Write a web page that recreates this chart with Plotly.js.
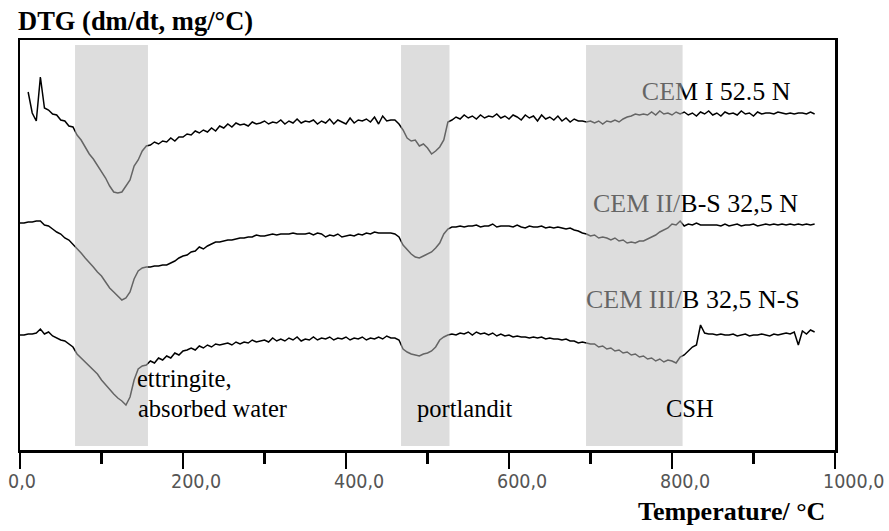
<!DOCTYPE html>
<html>
<head>
<meta charset="utf-8">
<script src="https://cdn.plot.ly/plotly-3.0.1.min.js"></script>
<style>html,body{margin:0;padding:0;background:#fff;}#chart{width:889px;height:531px;}</style>
</head>
<body>
<div id="chart"></div>
<script>
// Temperature sampling grid (°C), 0..975 step 5
const temperature = Array.from({length: 196}, (_, i) => i * 5);

// DTG readings (arbitrary offset units), one row = 50 °C
const cemI = [
  null, null, 35.8, 33.7, 32.9, 37.3, 34.2, 34.0, 33.6, 33.5,
  33.0, 32.9, 32.4, 32.3, 31.5, 31.0, 30.3, 29.6, 29.1, 28.5,
  27.9, 27.2, 26.4, 25.8, 25.7, 25.8, 26.4, 27.0, 28.4, 29.0,
  29.9, 30.4, 30.5, 30.8, 30.6, 30.9, 30.8, 31.2, 30.9, 31.3,
  31.3, 31.6, 31.5, 31.9, 31.7, 32.0, 31.8, 32.2, 31.9, 32.4,
  32.2, 32.6, 32.3, 32.7, 32.5, 32.6, 32.4, 32.8, 32.6, 32.7,
  32.9, 32.6, 32.8, 32.7, 33.0, 32.6, 32.9, 32.7, 33.1, 32.7,
  32.9, 32.8, 33.0, 32.6, 32.9, 32.7, 33.1, 32.6, 33.0, 32.8,
  32.6, 33.2, 32.7, 33.0, 32.9, 33.1, 32.8, 33.3, 32.6, 33.4,
  32.9, 33.0, 33.0, 32.6, 32.0, 31.2, 30.9, 31.0, 30.4, 30.6,
  30.2, 29.6, 29.9, 30.3, 31.0, 32.8, 33.0, 33.3, 33.1, 33.5,
  33.2, 33.4, 33.1, 33.5, 33.2, 33.4, 33.3, 33.6, 33.2, 33.4,
  33.1, 33.5, 33.3, 33.0, 33.5, 33.2, 33.4, 32.9, 33.5, 33.1,
  33.3, 33.0, 33.4, 32.9, 33.2, 32.8, 33.1, 32.9, 32.9, 32.8,
  32.9, 32.7, 32.9, 32.6, 32.9, 32.8, 33.0, 32.8, 33.1, 33.3,
  33.4, 33.6, 33.5, 33.6, 33.5, 33.8, 33.5, 33.9, 33.6, 33.7,
  33.5, 33.8, 33.6, 33.8, 33.5, 33.7, 33.4, 33.8, 33.6, 33.9,
  33.5, 33.7, 33.4, 33.8, 33.6, 33.7, 33.5, 33.9, 33.6, 33.7,
  33.4, 33.8, 33.6, 33.7, 33.7, 33.6, 33.8, 33.7, 33.6, 33.7,
  33.6, 33.7, 33.7, 33.6, 33.8, 33.6
];
const cemII = [
  22.7, 22.7, 22.8, 22.8, 22.9, 22.9, 22.5, 22.4, 22.1, 21.8,
  21.6, 21.2, 21.0, 20.6, 20.2, 19.7, 19.2, 18.8, 18.3, 17.8,
  17.4, 16.8, 16.2, 15.8, 15.4, 15.0, 15.2, 15.8, 17.1, 17.9,
  18.2, 18.3, 18.3, 18.4, 18.4, 18.5, 18.5, 18.7, 18.9, 19.2,
  19.4, 19.5, 19.8, 19.9, 20.3, 20.1, 20.4, 20.6, 20.8, 20.8,
  20.9, 21.0, 21.0, 21.1, 21.2, 21.2, 21.3, 21.3, 21.5, 21.4,
  21.4, 21.5, 21.6, 21.5, 21.6, 21.6, 21.6, 21.7, 21.6, 21.6,
  21.6, 21.7, 21.5, 21.7, 21.6, 21.3, 21.5, 21.4, 21.6, 21.3,
  21.4, 21.5, 21.4, 21.6, 21.5, 21.7, 21.6, 21.8, 21.7, 21.7,
  21.7, 21.7, 21.6, 21.3, 20.5, 20.0, 19.6, 19.3, 19.2, 19.4,
  19.6, 19.8, 20.2, 20.7, 21.6, 22.1, 22.3, 22.3, 22.4, 22.3,
  22.4, 22.4, 22.5, 22.3, 22.4, 22.4, 22.6, 22.3, 22.4, 22.4,
  22.4, 22.3, 22.5, 22.3, 22.2, 22.4, 22.3, 22.3, 22.4, 22.2,
  22.3, 22.2, 22.3, 22.2, 22.1, 22.2, 22.0, 21.9, 21.7, 21.6,
  21.4, 21.5, 21.2, 21.3, 21.2, 21.0, 21.2, 20.9, 21.0, 20.7,
  20.8, 20.7, 20.9, 20.9, 21.1, 21.3, 21.5, 21.8, 22.0, 22.2,
  22.6, 22.5, 22.9, 22.4, 22.6, 22.5, 22.7, 22.5, 22.5, 22.5,
  22.5, 22.5, 22.4, 22.6, 22.4, 22.5, 22.6, 22.4, 22.5, 22.5,
  22.6, 22.4, 22.5, 22.6, 22.5, 22.6, 22.5, 22.6, 22.5, 22.6,
  22.5, 22.6, 22.5, 22.6, 22.5, 22.6
];
const cemIII = [
  11.5, 11.5, 11.6, 11.6, 11.7, 12.1, 11.6, 11.8, 11.4, 11.2,
  11.0, 10.9, 10.6, 10.3, 9.6, 9.2, 8.8, 8.4, 8.0, 7.6,
  7.0, 6.5, 6.1, 5.6, 5.2, 4.9, 4.5, 5.3, 7.0, 8.1,
  8.4, 8.5, 8.9, 8.7, 9.2, 9.0, 9.4, 9.2, 9.7, 9.5,
  9.9, 10.0, 10.2, 10.0, 10.4, 10.2, 10.5, 10.3, 10.6, 10.5,
  10.6, 10.7, 10.5, 10.8, 10.6, 10.8, 10.7, 11.0, 10.8, 10.9,
  11.0, 10.8, 11.2, 10.9, 11.1, 10.9, 11.2, 11.0, 11.3, 10.9,
  11.1, 11.0, 11.3, 11.0, 11.2, 11.1, 11.3, 11.0, 11.2, 11.1,
  11.3, 11.0, 11.2, 11.1, 11.3, 11.0, 11.2, 11.1, 11.3, 11.1,
  11.4, 11.2, 11.2, 11.0, 10.1, 9.8, 9.6, 9.5, 9.4, 9.6,
  9.7, 9.9, 10.3, 11.0, 11.3, 11.5, 11.6, 11.5, 11.7, 11.6,
  11.8, 11.5, 11.8, 11.6, 11.7, 11.5, 11.7, 11.4, 11.6, 11.4,
  11.5, 11.3, 11.4, 11.3, 11.3, 11.2, 11.3, 11.2, 11.3, 11.1,
  11.2, 11.1, 11.1, 11.0, 11.1, 10.9, 10.9, 10.7, 10.8, 10.7,
  10.6, 10.6, 10.3, 10.4, 10.1, 10.2, 9.9, 10.0, 9.7, 9.8,
  9.5, 9.6, 9.3, 9.4, 9.1, 9.2, 8.9, 9.1, 8.8, 9.0,
  8.9, 8.7, 9.3, 9.5, 9.9, 10.3, 10.5, 12.5, 11.7, 11.6,
  11.6, 11.5, 11.6, 11.5, 11.5, 11.6, 11.4, 11.5, 11.6, 11.4,
  11.5, 11.5, 11.6, 11.5, 11.4, 11.6, 11.5, 11.6, 11.7, 11.6,
  11.8, 10.5, 11.9, 11.6, 12.0, 11.8
];

// Series labels
const seriesNames = ['CEM I 52.5 N', 'CEM II/B-S 32,5 N', 'CEM III/B 32,5 N-S'];
const labelX = [763, 703, 694.5];
const labelY = [35.65, 24.48, 14.82];

// Highlighted temperature ranges (°C) and their labels
const bandStart = [67.5, 467.5, 694.5];
const bandEnd = [157, 527, 813];
const bandLabels = ['ettringite,', 'absorbed water', 'portlandit', 'CSH'];
const bandLabelX = [144, 144.5, 487.5, 792.5];
const bandLabelY = [7.17, 4.17, 4.17, 4.17];

// Axis ticks
const tickVals = [0, 200, 400, 600, 800, 1000];
const tickText = ['0,0', '200,0', '400,0', '600,0', '800,0', '1000,0'];

const serif = 'Liberation Serif, Times New Roman, serif';

const traces = [cemI, cemII, cemIII].map(ys => ({
  x: temperature, y: ys, type: 'scatter', mode: 'lines',
  line: {color: '#000', width: 1.5}, connectgaps: false, hoverinfo: 'skip'
}));
traces.push({
  x: labelX, y: labelY, type: 'scatter', mode: 'text',
  text: seriesNames, textposition: 'middle right',
  textfont: {family: serif, size: 26, color: '#000'}, hoverinfo: 'skip'
});

const shapes = bandStart.map((s, i) => ({
  type: 'rect', xref: 'x', yref: 'paper', x0: s, x1: bandEnd[i], y0: 0.01, y1: 0.988,
  fillcolor: 'rgb(191,191,191)', opacity: 0.53, line: {width: 0}, layer: 'above'
}));

const annotations = bandLabels.map((t, i) => ({
  text: t, x: bandLabelX[i], y: bandLabelY[i], xref: 'x', yref: 'y',
  xanchor: 'left', yanchor: 'middle', showarrow: false, xshift: -2,
  font: {family: serif, size: 24.5, color: '#000'}
}));
// Tick labels, left-aligned just before each major tick (as in the original)
tickVals.forEach((v, i) => annotations.push({
  text: tickText[i], x: v, y: 0, xref: 'x', yref: 'paper',
  xanchor: 'left', yanchor: 'top', xshift: -14, yshift: -18, showarrow: false,
  font: {family: 'DejaVu Sans Condensed, DejaVu Sans, sans-serif', size: 19.5, color: '#555'}
}));
annotations.push({
  text: '<b>Temperature/ °C</b>', xref: 'paper', yref: 'paper', x: 0.99, y: -0.151,
  xanchor: 'right', yanchor: 'middle', showarrow: false,
  font: {family: serif, size: 26, color: '#000'}
});

const layout = {
  width: 889, height: 531,
  margin: {l: 20, r: 54, t: 40, b: 81},
  paper_bgcolor: '#fff', plot_bgcolor: '#fff',
  showlegend: false,
  title: {
    text: '<b>DTG (dm/dt, mg/°C)</b>', xref: 'container', yref: 'container',
    x: 18 / 889, xanchor: 'left', y: 1 - 21 / 531, yanchor: 'middle',
    font: {family: serif, size: 26.5, color: '#000'}
  },
  xaxis: {
    range: [0, 1000], showgrid: false, zeroline: false,
    showline: true, mirror: true, linecolor: '#000', linewidth: 2.5,
    ticks: 'outside', ticklen: 16, tickwidth: 2.5, tickcolor: '#000',
    tickmode: 'array', tickvals: tickVals, ticktext: tickText, showticklabels: false,
    minor: {dtick: 100, ticks: 'outside', ticklen: 11, tickwidth: 2.5, tickcolor: '#000', showgrid: false}
  },
  yaxis: {
    range: [0, 41], showgrid: false, zeroline: false, showticklabels: false,
    ticks: '', showline: true, mirror: true, linecolor: '#000', linewidth: 2.5
  },
  shapes: shapes,
  annotations: annotations
};

Plotly.newPlot('chart', traces, layout, {staticPlot: true, displayModeBar: false});
</script>
</body>
</html>
